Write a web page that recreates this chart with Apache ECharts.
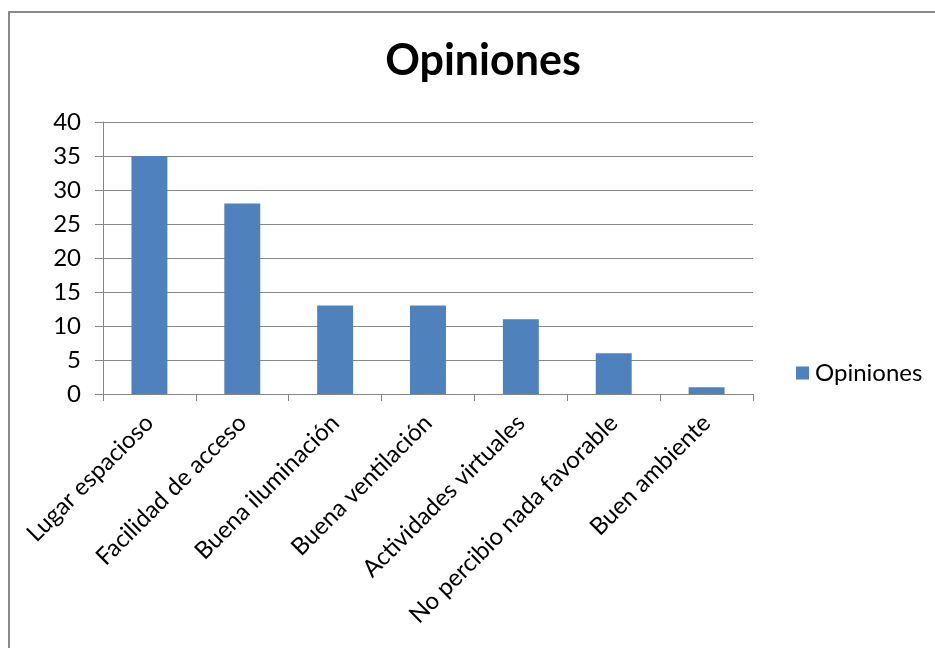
<!DOCTYPE html>
<html>
<head>
<meta charset="utf-8">
<script src="https://cdn.jsdelivr.net/npm/echarts@6/dist/echarts.min.js"></script>
<style>
  html, body { margin: 0; padding: 0; background: #fff; }
  #chart { width: 935px; height: 648px; }
</style>
</head>
<body>
<div id="chart"></div>
<script>
// Survey answers: what respondents found favourable
const categories = [
  'Lugar espacioso',
  'Facilidad de acceso',
  'Buena iluminación',
  'Buena ventilación',
  'Actividades virtuales',
  'No percibio nada favorable',
  'Buen ambiente'
];
const opiniones = [35, 28, 13, 13, 11, 6, 1];
const yTicks = { min: 0, max: 40, interval: 5 };

const FONT = 'Lato, "Liberation Sans", sans-serif';
const chart = echarts.init(document.getElementById('chart'), null, { renderer: 'canvas' });

chart.setOption({
  animation: false,
  backgroundColor: '#ffffff',
  textStyle: { fontFamily: FONT, color: '#000' },
  title: {
    text: 'Opiniones',
    left: 478,
    top: 35,
    textAlign: 'center',
    textStyle: { fontFamily: FONT, fontWeight: 'bold', fontSize: 43, color: '#000' }
  },
  legend: {
    data: ['Opiniones'],
    left: 796,
    top: 361,
    padding: 0,
    icon: 'rect',
    itemWidth: 13,
    itemHeight: 13,
    itemGap: 6,
    textStyle: { fontFamily: FONT, fontSize: 24, color: '#000', padding: [0, 0, 0, 1] }
  },
  graphic: [{
    type: 'rect',
    shape: { x: 9, y: 12, width: 1000, height: 700 },
    style: { fill: 'none', stroke: '#8a8a8a', lineWidth: 2 },
    silent: true,
    z: -1
  }],
  grid: { left: 103, right: 182, top: 122, bottom: 254, containLabel: false },
  xAxis: {
    type: 'category',
    data: categories,
    boundaryGap: true,
    axisLine: { show: true, lineStyle: { color: '#868686', width: 1 } },
    axisTick: { show: true, alignWithLabel: false, length: 7, lineStyle: { color: '#868686' } },
    axisLabel: { rotate: 45, interval: 0, margin: 25, fontFamily: FONT, fontSize: 24, color: '#000' }
  },
  yAxis: {
    type: 'value',
    min: yTicks.min,
    max: yTicks.max,
    interval: yTicks.interval,
    axisLine: { show: true, lineStyle: { color: '#868686', width: 1 } },
    axisTick: { show: true, length: 8, inside: false, lineStyle: { color: '#868686' } },
    axisLabel: { margin: 22, fontFamily: FONT, fontSize: 24, color: '#000' },
    splitLine: { show: true, lineStyle: { color: '#868686', width: 1 } }
  },
  series: [{
    name: 'Opiniones',
    type: 'bar',
    data: opiniones,
    barWidth: '38.7%',
    itemStyle: { color: '#4f81bd' }
  }]
});
</script>
</body>
</html>
